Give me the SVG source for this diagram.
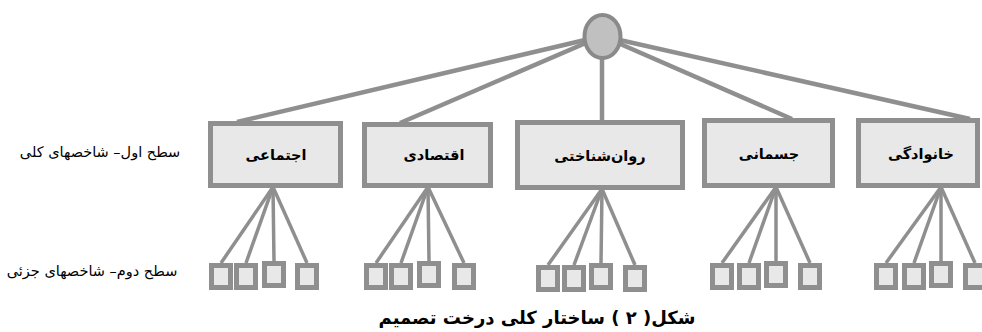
<svg xmlns="http://www.w3.org/2000/svg" width="982" height="332" viewBox="0 0 982 332">
<style>
.edge{stroke:#8f8f8f;stroke-width:4.5;fill:none;stroke-linecap:butt}
.sub{stroke:#8f8f8f;stroke-width:3.5;fill:none}
.box{fill:#e8e8e8;stroke:#8f8f8f;stroke-width:5}
.sq{fill:#e8e8e8;stroke:#8f8f8f;stroke-width:5}
.lbl{font-family:"DejaVu Sans",sans-serif;font-weight:bold;font-size:14.5px;fill:#000;text-anchor:middle}
.side{font-family:"DejaVu Sans",sans-serif;font-size:14.5px;fill:#000;text-anchor:middle}
.cap{font-family:"DejaVu Sans",sans-serif;font-weight:bold;font-size:18px;fill:#000;text-anchor:middle}
</style>
<rect width="982" height="332" fill="#ffffff"/>
<g id="connectors">
<line class="edge" x1="602" y1="36" x2="237" y2="122"/>
<line class="edge" x1="602" y1="36" x2="400" y2="123"/>
<line class="edge" x1="602" y1="36" x2="602" y2="121"/>
<line class="edge" x1="602" y1="36" x2="792" y2="119"/>
<line class="edge" x1="602" y1="36" x2="970" y2="119"/>
<g>
<line class="sub" x1="273" y1="187" x2="221" y2="263"/>
<line class="sub" x1="273" y1="187" x2="246" y2="263"/>
<line class="sub" x1="273" y1="187" x2="274" y2="261"/>
<line class="sub" x1="273" y1="187" x2="307" y2="263"/>
</g>
<g>
<line class="sub" x1="428" y1="187" x2="376" y2="263"/>
<line class="sub" x1="428" y1="187" x2="401" y2="263"/>
<line class="sub" x1="428" y1="187" x2="429" y2="261"/>
<line class="sub" x1="428" y1="187" x2="464" y2="263"/>
</g>
<g>
<line class="sub" x1="602" y1="189" x2="548" y2="265"/>
<line class="sub" x1="602" y1="189" x2="574" y2="265"/>
<line class="sub" x1="602" y1="189" x2="601" y2="263"/>
<line class="sub" x1="602" y1="189" x2="635" y2="265"/>
</g>
<g>
<line class="sub" x1="776" y1="187" x2="722" y2="263"/>
<line class="sub" x1="776" y1="187" x2="749" y2="263"/>
<line class="sub" x1="776" y1="187" x2="776" y2="261"/>
<line class="sub" x1="776" y1="187" x2="810" y2="263"/>
</g>
<g>
<line class="sub" x1="941" y1="187" x2="886" y2="263"/>
<line class="sub" x1="941" y1="187" x2="914" y2="263"/>
<line class="sub" x1="941" y1="187" x2="941" y2="261"/>
<line class="sub" x1="941" y1="187" x2="975" y2="263"/>
</g>
</g>
<g id="root">
<ellipse cx="602.5" cy="36.5" rx="18" ry="21.5" fill="#c0c0c0" stroke="#8a8a8a" stroke-width="4"/>
</g>
<g id="n1">
<rect class="box" x="210.5" y="123.5" width="130" height="62"/>
<text class="lbl" x="276" y="160" direction="rtl">اجتماعی</text>
</g>
<g id="n2">
<rect class="box" x="364.5" y="124.5" width="126" height="61"/>
<text class="lbl" x="434" y="160" direction="rtl">اقتصادی</text>
</g>
<g id="n3">
<rect class="box" x="517.5" y="122.5" width="165" height="65"/>
<text class="lbl" x="600" y="161" direction="rtl">روان‌شناختی</text>
</g>
<g id="n4">
<rect class="box" x="704.5" y="120.5" width="128" height="65"/>
<text class="lbl" x="769" y="159" direction="rtl">جسمانی</text>
</g>
<g id="n5">
<rect class="box" x="858.5" y="120.5" width="119" height="65"/>
<text class="lbl" x="921" y="159" direction="rtl">خانوادگی</text>
</g>
<g id="leaves1">
<rect class="sq" x="211.5" y="265.5" width="19" height="22"/>
<rect class="sq" x="236.5" y="265.5" width="19" height="22"/>
<rect class="sq" x="264.5" y="263.5" width="19" height="22"/>
<rect class="sq" x="297.5" y="265.5" width="19" height="22"/>
</g>
<g id="leaves2">
<rect class="sq" x="366.5" y="265.5" width="19" height="22"/>
<rect class="sq" x="391.5" y="265.5" width="19" height="22"/>
<rect class="sq" x="419.5" y="263.5" width="19" height="22"/>
<rect class="sq" x="454.5" y="265.5" width="19" height="22"/>
</g>
<g id="leaves3">
<rect class="sq" x="538.5" y="267.5" width="19" height="22"/>
<rect class="sq" x="564.5" y="267.5" width="19" height="22"/>
<rect class="sq" x="591.5" y="265.5" width="19" height="22"/>
<rect class="sq" x="625.5" y="267.5" width="19" height="22"/>
</g>
<g id="leaves4">
<rect class="sq" x="712.5" y="265.5" width="19" height="22"/>
<rect class="sq" x="739.5" y="265.5" width="19" height="22"/>
<rect class="sq" x="766.5" y="263.5" width="19" height="22"/>
<rect class="sq" x="800.5" y="265.5" width="19" height="22"/>
</g>
<g id="leaves5">
<rect class="sq" x="876.5" y="265.5" width="19" height="22"/>
<rect class="sq" x="904.5" y="265.5" width="19" height="22"/>
<rect class="sq" x="931.5" y="263.5" width="19" height="22"/>
<rect class="sq" x="965.5" y="265.5" width="19" height="22"/>
</g>
<g id="level-labels">
<text class="side" x="100" y="157" direction="rtl">سطح اول– شاخصهای کلی</text>
<text class="side" x="92" y="276" direction="rtl" font-size="15">سطح دوم– شاخصهای جزئی</text>
</g>
<g id="caption">
<text class="cap" x="537" y="324" direction="rtl">شکل( ۲ ) ساختار کلی درخت تصمیم</text>
</g>
</svg>
